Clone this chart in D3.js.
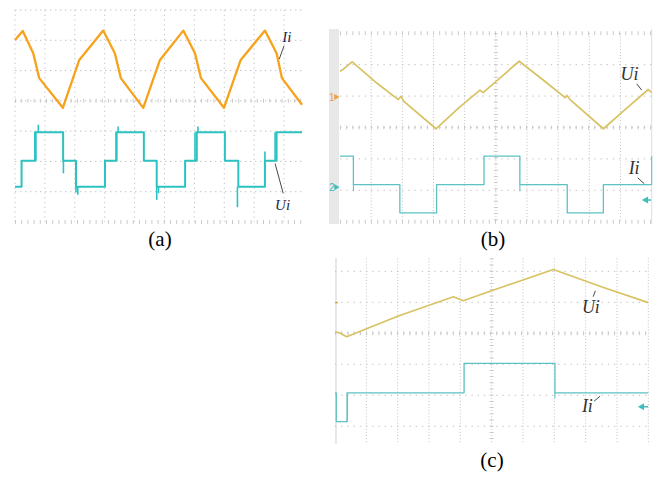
<!DOCTYPE html>
<html>
<head>
<meta charset="utf-8">
<script src="https://cdn.jsdelivr.net/npm/d3@7"></script>
<style>body{margin:0;background:#fff}</style>
</head>
<body>
<svg id="chart"></svg>
<script>

// (a) Ii current, orange
const aIi = [[0,2.01],[0.26,2.31],[0.61,1.57],[0.81,0.75],[1.60,-0.23],[2.15,1.35],[2.95,2.32],
  [3.34,1.57],[3.54,0.75],[4.29,-0.23],[4.85,1.35],[5.63,2.32],[6.02,1.57],[6.22,0.75],
  [6.99,-0.23],[7.55,1.35],[8.36,2.32],[8.75,1.57],[8.93,0.75],[9.6,-0.13]]
// (a) Ui staircase voltage, cyan
const aUiEdges = [0,0.22,0.67,1.61,2.04,3.01,3.40,4.31,4.74,5.69,6.08,7.02,7.47,8.36,8.75,9.6]
const aUiLevels = [-2.84,-1.98,-1.04,-1.98,-2.84,-1.98,-1.04,-1.98,-2.84,-1.98,-1.04,-1.98,-2.84,-1.98,-1.04,-1.04]
const aUiSpikes = [[0.78,-1.04,-0.79],[0.70,-1.98,-1.04],[1.62,-1.98,-2.39],[2.04,-2.84,-3.03],[2.10,-2.84,-3.1],
  [3.38,-1.98,-1.04],[3.45,-1.04,-0.85],[4.74,-2.84,-3.27],[4.80,-2.84,-3.05],[6.02,-1.98,-1.04],
  [6.12,-1.04,-0.85],[7.44,-2.84,-3.51],[8.36,-1.98,-1.67],[8.70,-1.98,-1.04]]

// (b) Ui triangle, yellow
const bUi = [[0,1.79],[0.1,1.85],[0.39,2.09],[1.2,1.4],[1.87,0.89],[1.96,0.99],[2.05,0.83],[3.08,-0.04],
  [3.8,0.62],[4.49,1.19],[4.59,1.11],[5.75,2.11],[6.6,1.45],[7.22,0.95],[7.28,1.02],[7.38,0.89],
  [8.45,-0.04],[9.2,0.62],[9.89,1.21],[10,1.11]]
// (b) Ii current steps, cyan
const bIiEdges = [0,0.43,1.92,3.10,4.62,5.77,7.29,8.45,10]
const bIiLevels = [-0.91,-1.82,-2.72,-1.82,-0.91,-1.82,-2.72,-1.82,-1.82]
const bIiSpikes = [[0.43,-1.82,-2.03],[5.77,-1.82,-2.03],[10,-1.82,-0.91]]

// (c) Ui ramp, yellow
const cUi = [[0,0.05],[0.16,0.01],[0.37,-0.11],[2.0,0.55],[3.78,1.18],[4.09,1.05],[5.5,1.55],[6.97,2.06],[8.5,1.5],[10,0.99]]
// (c) Ii current steps, cyan
const cIiEdges = [0,0.04,0.39,4.12,7.02,10]
const cIiLevels = [-1.92,-2.85,-1.92,-0.97,-1.92,-1.92]
const cIiSpikes = [[7.02,-1.92,-2.1],[0.39,-2.85,-1.92]]

const W = 660, H = 477
const svg = d3.select('#chart').attr('width', W).attr('height', H)
  .attr('viewBox', [0, 0, W, H]).style('background', '#fff')

const serif = '"Liberation Serif","DejaVu Serif",serif'

function grid(g, x, y, cols, rows, denseRows, denseCols, colDash, rowDash) {
  const [y0, y1] = y.range(), [x0, x1] = x.range()
  g.selectAll('line.col').data(cols).join('line').attr('class', 'col')
    .attr('x1', d => x(d)).attr('x2', d => x(d)).attr('y1', y1).attr('y2', y0)
    .attr('stroke', '#c2c2c2').attr('stroke-width', 1).attr('stroke-dasharray', colDash)
  g.selectAll('line.row').data(rows).join('line').attr('class', 'row')
    .attr('x1', x0).attr('x2', x1).attr('y1', d => y(d)).attr('y2', d => y(d))
    .attr('stroke', '#c2c2c2').attr('stroke-width', 1).attr('stroke-dasharray', rowDash)
  // minor tick marks on the centre lines
  g.selectAll('line.drow').data(denseRows).join('line').attr('class', 'drow')
    .attr('x1', x0).attr('x2', x1).attr('y1', d => y(d)).attr('y2', d => y(d))
    .attr('stroke', '#cacaca').attr('stroke-width', 4).attr('stroke-dasharray', '1,5.2')
  g.selectAll('line.dcol').data(denseCols).join('line').attr('class', 'dcol')
    .attr('x1', d => x(d)).attr('x2', d => x(d)).attr('y1', y1).attr('y2', y0)
    .attr('stroke', '#cacaca').attr('stroke-width', 4).attr('stroke-dasharray', '1,5.2')
}

function trace(g, x, y, pts, color, width, curve) {
  const line = d3.line().x(d => x(d[0])).y(d => y(d[1])).curve(curve || d3.curveLinear)
  g.append('path').datum(pts).attr('d', line).attr('fill', 'none')
    .attr('stroke', color).attr('stroke-width', width).attr('stroke-linejoin', 'round')
}

function steps(g, x, y, edges, levels, spikes, color, width) {
  trace(g, x, y, edges.map((e, i) => [e, levels[i]]), color, width, d3.curveStepAfter)
  g.selectAll(null).data(spikes).join('line')
    .attr('x1', d => x(d[0])).attr('x2', d => x(d[0]))
    .attr('y1', d => y(d[1])).attr('y2', d => y(d[2]))
    .attr('stroke', color).attr('stroke-width', width * 0.8)
}

function label(g, x, y, txt, at, from, to, size, color) {
  g.append('text').attr('x', x(at[0])).attr('y', y(at[1])).text(txt)
    .attr('font-family', serif).attr('font-style', 'italic').attr('font-size', size).attr('fill', color)
  g.append('line').attr('x1', x(from[0])).attr('y1', y(from[1]))
    .attr('x2', x(to[0])).attr('y2', y(to[1])).attr('stroke', '#333').attr('stroke-width', 0.9)
}

function caption(txt, cx, cy) {
  svg.append('text').attr('x', cx).attr('y', cy).attr('text-anchor', 'middle').text(txt)
    .attr('font-family', serif).attr('font-size', 21).attr('fill', '#000')
}

// ---- panel (a)
{
  const x = d3.scaleLinear().domain([0, 9.6]).range([15, 302])
  const y = d3.scaleLinear().domain([-4, 3]).range([222, 10])
  const g = svg.append('g')
  grid(g, x, y, d3.range(0, 10), d3.range(-3, 4), [0, -4], [], '1.2,3.6', '1.4,3.6')
  trace(g, x, y, aIi, '#f7a21b', 2.3)
  steps(g, x, y, aUiEdges, aUiLevels, aUiSpikes, '#2cc2c2', 2)
  label(g, x, y, 'Ii', [8.94, 1.95], [9.0, 1.82], [8.84, 1.38], 15, '#1c2748')
  label(g, x, y, 'Ui', [8.7, -3.6], [8.7, -2.07], [8.97, -3.05], 15, '#1c2748')
  caption('(a)', 160, 246)
}

// ---- panel (b)
{
  const x = d3.scaleLinear().domain([0, 10]).range([340, 651.7])
  const y = d3.scaleLinear().domain([-3, 3]).range([221.7, 33.3])
  const g = svg.append('g')
  g.append('rect').attr('x', 329).attr('y', 29).attr('width', 10).attr('height', 195).attr('fill', '#e8e8e8')
  g.append('line').attr('x1', 651.7).attr('x2', 651.7).attr('y1', 29).attr('y2', 224).attr('stroke', '#dedede')
  grid(g, x, y, d3.range(1, 10), d3.range(-2, 3), [0, 3, -3], [5], '1,2.1', '1.4,4.8')
  trace(g, x, y, bUi, '#d8c262', 1.7)
  steps(g, x, y, bIiEdges, bIiLevels, bIiSpikes, '#5cc2c2', 1.3)
  // channel markers
  g.append('text').attr('x', 329).attr('y', y(0.97) + 4).text('1').attr('font-family', 'Arial,sans-serif')
    .attr('font-size', 10).attr('fill', '#eba23a')
  g.append('path').attr('d', d3.symbol(d3.symbolTriangle, 16)).attr('transform', `translate(${336},${y(0.97)}) rotate(90)`).attr('fill', '#eba23a')
  g.append('text').attr('x', 329).attr('y', y(-1.9) + 4).text('2').attr('font-family', 'Arial,sans-serif')
    .attr('font-size', 10).attr('fill', '#3fbcbc')
  g.append('path').attr('d', d3.symbol(d3.symbolTriangle, 16)).attr('transform', `translate(${336},${y(-1.9)}) rotate(90)`).attr('fill', '#3fbcbc')
  g.append('path').attr('d', d3.symbol(d3.symbolTriangle, 22)).attr('transform', `translate(${646},${y(-2.31)}) rotate(-90)`).attr('fill', '#3fbcbc')
  g.append('line').attr('x1', 646).attr('x2', 651).attr('y1', y(-2.31)).attr('y2', y(-2.31)).attr('stroke', '#3fbcbc').attr('stroke-width', 1.5)
  label(g, x, y, 'Ui', [9.0, 1.52], [9.52, 1.39], [9.68, 1.19], 18, '#333')
  label(g, x, y, 'Ii', [9.26, -1.49], [9.55, -1.6], [9.76, -1.79], 18, '#333')
  caption('(b)', 493, 246)
}

// ---- panel (c)
{
  const x = d3.scaleLinear().domain([0, 10]).range([335, 648.3])
  const y = d3.scaleLinear().domain([-3.55, 2.42]).range([443.3, 258.3])
  const g = svg.append('g')
  g.append('line').attr('x1', 336).attr('x2', 336).attr('y1', 258).attr('y2', 444).attr('stroke', '#d8d8d8').attr('stroke-width', 1.2)
  grid(g, x, y, d3.range(1, 11), d3.range(-3, 3), [0], [5], '1,2.1', '1.4,4.8')
  trace(g, x, y, cUi, '#d8c262', 1.7)
  steps(g, x, y, cIiEdges, cIiLevels, cIiSpikes, '#5cc2c2', 1.3)
  g.append('line').attr('x1', 335).attr('x2', 338).attr('y1', y(0.99)).attr('y2', y(0.99)).attr('stroke', '#eba23a').attr('stroke-width', 1.5)
  g.append('path').attr('d', d3.symbol(d3.symbolTriangle, 22)).attr('transform', `translate(${642},${y(-2.37)}) rotate(-90)`).attr('fill', '#3fbcbc')
  g.append('line').attr('x1', 642).attr('x2', 648).attr('y1', y(-2.37)).attr('y2', y(-2.37)).attr('stroke', '#3fbcbc').attr('stroke-width', 1.5)
  label(g, x, y, 'Ui', [7.88, 0.67], [8.24, 1.18], [8.31, 1.37], 18, '#333')
  label(g, x, y, 'Ii', [7.88, -2.54], [8.27, -2.19], [8.46, -2.03], 18, '#333')
  caption('(c)', 492, 467)
}
</script>
</body>
</html>
